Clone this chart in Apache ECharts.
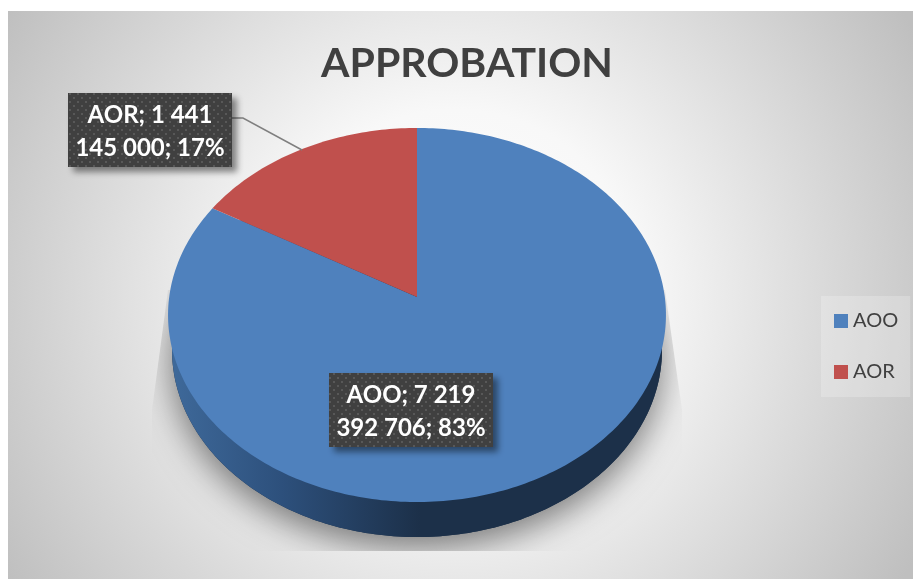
<!DOCTYPE html>
<html>
<head>
<meta charset="utf-8">
<style>
  html, body { margin: 0; padding: 0; background: #fff; }
  #chart { width: 913px; height: 579px; }
</style>
</head>
<body>
<div id="chart"></div>
<script src="https://cdn.jsdelivr.net/npm/echarts@6/dist/echarts.min.js"></script>
<script>
const categories = ['AOO', 'AOR']
const values = [7219392706, 1441145000]
const sliceColors = ['#4f81bd', '#c0504d']
const labelLines = [
  ['AOO; 7 219', '392 706; 83%'],
  ['AOR; 1 441', '145 000; 17%']
]
const titleText = 'APPROBATION'

const total = values.reduce((a, b) => a + b, 0)
const FONT = 'Lato'

// tilted disc: circle seen in perspective, so the centre sits above the middle of the ellipse
const disc = { cx: 417, cy: 297, a: 247.8, b: 185.3, k: 0.0963, depth: 35, lowerScale: 0.984 }

function project(deg, dy, sx) {
  const t = deg * Math.PI / 180
  const X = Math.sin(t)
  const Y = Math.cos(t)
  const d = 1 + disc.k * Y
  return [disc.cx + (sx || 1) * disc.a * X / d, disc.cy - disc.b * Y / d + (dy || 0)]
}

function arc(from, to, dy, sx) {
  const pts = []
  const n = Math.ceil(Math.abs(to - from))
  for (let i = 0; i <= n; i++) {
    pts.push(project(from + (to - from) * i / n, dy, sx))
  }
  return pts
}

function dotPattern() {
  const c = document.createElement('canvas')
  c.width = 8
  c.height = 8
  const g = c.getContext('2d')
  g.fillStyle = '#404040'
  g.fillRect(0, 0, 8, 8)
  g.fillStyle = '#585858'
  g.fillRect(1, 1, 2, 2)
  g.fillRect(5, 5, 2, 2)
  return c
}
const pattern = { image: dotPattern(), repeat: 'repeat' }

function labelBox(x, y, lines) {
  const w = 164
  const h = 74
  return [
    {
      type: 'rect',
      shape: { x: x, y: y, width: w, height: h },
      style: {
        fill: pattern,
        shadowBlur: 6,
        shadowOffsetX: 5,
        shadowOffsetY: 5,
        shadowColor: 'rgba(0,0,0,0.45)'
      }
    },
    {
      type: 'text',
      style: {
        x: x + w / 2,
        y: y + 22,
        text: lines[0],
        fill: '#fff',
        font: 'bold 24px ' + FONT,
        align: 'center',
        verticalAlign: 'middle'
      }
    },
    {
      type: 'text',
      style: {
        x: x + w / 2,
        y: y + 55,
        text: lines[1],
        fill: '#fff',
        font: 'bold 24px ' + FONT,
        align: 'center',
        verticalAlign: 'middle'
      }
    }
  ]
}

function renderSide() {
  const points = arc(0, 360, disc.depth, disc.lowerScale)
  const clip = {
    type: 'polygon',
    shape: { points: [[168, 290], [152, 410], [152, 551], [682, 551], [682, 410], [665, 290]] }
  }
  return {
    type: 'group',
    children: [
      {
        type: 'group',
        clipPath: clip,
        children: [{
          type: 'polygon',
          shape: { points: points },
          style: {
            fill: '#1c3049',
            shadowBlur: 34,
            shadowOffsetY: 11,
            shadowColor: 'rgba(0,0,0,0.5)'
          }
        }]
      },
      {
        type: 'polygon',
        shape: { points: points },
        style: {
          fill: new echarts.graphic.LinearGradient(168, 0, 420, 0, [
            { offset: 0, color: '#3f6a9b' },
            { offset: 0.45, color: '#2d507c' },
            { offset: 1, color: '#1c3049' }
          ], true)
        }
      }
    ]
  }
}

function renderSlice(index) {
  let start = 0
  for (let i = 0; i < index; i++) {
    start += values[i] / total * 360
  }
  const end = start + values[index] / total * 360
  const children = [{
    type: 'polygon',
    shape: { points: [[disc.cx, disc.cy]].concat(arc(start, end)) },
    style: { fill: sliceColors[index] }
  }]
  if (index === 0) {
    return { type: 'group', children: children.concat(labelBox(329, 373, labelLines[0])) }
  }
  children.push({
    type: 'polyline',
    shape: { points: [[232, 118], [243, 118], [302, 150]] },
    style: { stroke: '#7f7f7f', lineWidth: 1.5, fill: 'none' }
  })
  return { type: 'group', children: children.concat(labelBox(68, 93, labelLines[1])) }
}

const chart = echarts.init(document.getElementById('chart'), null, { renderer: 'canvas' })
chart.setOption({
  animation: false,
  graphic: [{
    type: 'rect',
    z: -10,
    silent: true,
    shape: { x: 8, y: 11, width: 905, height: 568 },
    style: {
      fill: new echarts.graphic.RadialGradient(455, 295, 530, [
        { offset: 0, color: '#ffffff' },
        { offset: 0.35, color: '#f8f8f8' },
        { offset: 1, color: '#bfbfbf' }
      ], true)
    }
  }],
  title: {
    text: titleText,
    left: 462,
    top: 38,
    textAlign: 'center',
    textStyle: { fontFamily: FONT, fontWeight: 'bold', fontSize: 41, color: '#404040' }
  },
  legend: {
    data: categories,
    orient: 'vertical',
    left: 821,
    top: 296,
    padding: [15, 12, 15, 13],
    backgroundColor: 'rgba(255,255,255,0.22)',
    itemWidth: 14,
    itemHeight: 14,
    itemGap: 31,
    icon: 'rect',
    textStyle: { fontFamily: FONT, fontSize: 20, color: '#404040' }
  },
  series: [
    { type: 'custom', name: 'side', coordinateSystem: 'none', data: [0], renderItem: renderSide, silent: true },
    { type: 'custom', name: categories[0], coordinateSystem: 'none', data: [values[0]], itemStyle: { color: sliceColors[0] }, renderItem: () => renderSlice(0) },
    { type: 'custom', name: categories[1], coordinateSystem: 'none', data: [values[1]], itemStyle: { color: sliceColors[1] }, renderItem: () => renderSlice(1) }
  ]
})
</script>
</body>
</html>
